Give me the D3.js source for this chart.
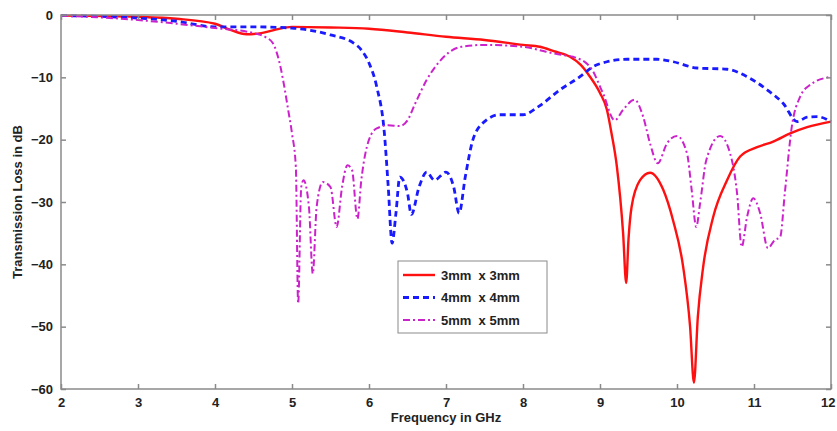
<!DOCTYPE html>
<html><head><meta charset="utf-8">
<script src="https://cdn.jsdelivr.net/npm/d3@7"></script>
<style>body{margin:0;background:#fff}svg{display:block}text{font-family:"Liberation Sans",Arial,sans-serif}</style>
</head><body><svg id="c" width="837" height="431"></svg>
<script>
const xTicks=[2,3,4,5,6,7,8,9,10,11,12];
const yTicks=[0,-10,-20,-30,-40,-50,-60];
const seriesNames=["3mm  x 3mm","4mm  x 4mm","5mm  x 5mm"];
const freq3=[2,3,3.5,4,4.2,4.41,4.6,4.8,5,5.5,6,6.5,7,7.5,8,8.22,8.4,8.61,8.75,8.87,9.0,9.09,9.15,9.22,9.3,9.34,9.37,9.41,9.52,9.65,9.82,9.95,10.08,10.17,10.22,10.27,10.34,10.47,10.65,10.82,11.04,11.25,11.47,11.69,12];
const loss3=[-0.1,-0.3,-0.6,-1.4,-2.4,-3.1,-2.9,-2.3,-1.9,-2.0,-2.2,-2.8,-3.5,-4.0,-4.8,-5.1,-5.8,-6.7,-8.0,-9.9,-12.5,-15.2,-19,-24.4,-35,-43,-36,-30.8,-26.5,-25.3,-28,-33,-40.4,-50,-59,-48.5,-40.4,-32.4,-26.5,-22.7,-21.2,-20.3,-19,-18,-17.1];
const freq4=[2,3,3.5,4,4.5,5,5.5,5.8,5.9,6.0,6.1,6.2,6.25,6.3,6.35,6.4,6.5,6.55,6.65,6.75,6.85,7.0,7.1,7.17,7.25,7.35,7.5,7.7,8.0,8.2,8.48,8.74,8.91,9.09,9.35,9.74,9.95,10.26,10.65,10.91,11.17,11.38,11.56,11.69,11.82,12];
const loss4=[-0.1,-0.5,-1.0,-1.9,-1.9,-2.1,-3.2,-4.5,-5.6,-7.7,-11.5,-19,-27.6,-36.6,-31.8,-26,-28.6,-32,-27.6,-25.2,-26.5,-25.2,-27.6,-31.8,-26,-20,-17.1,-16,-16,-14.7,-12,-9.9,-8.3,-7.5,-7.1,-7.1,-7.5,-8.5,-8.7,-9.9,-12,-14.2,-17.1,-16.4,-16.3,-17.1];
const freq5=[2,3,3.5,4,4.5,4.65,4.75,4.85,4.9,4.95,5.0,5.05,5.08,5.12,5.15,5.22,5.27,5.32,5.4,5.5,5.58,5.65,5.72,5.78,5.85,5.9,6.0,6.1,6.25,6.4,6.5,6.6,6.75,6.9,7.05,7.2,7.5,8.0,8.3,8.5,8.65,8.87,9.04,9.19,9.3,9.45,9.56,9.65,9.75,9.87,10.0,10.13,10.19,10.25,10.3,10.38,10.56,10.69,10.78,10.84,10.91,10.99,11.08,11.18,11.27,11.34,11.4,11.49,11.6,11.73,12];
const loss5=[-0.1,-0.8,-1.4,-2.1,-2.9,-3.5,-4.5,-8.3,-11.5,-15.2,-19,-24.4,-46.3,-27.6,-26.5,-30.8,-41.5,-30.8,-26.8,-27.6,-34,-27.6,-24.1,-24.9,-32.7,-26.5,-20,-18.2,-17.7,-17.8,-16.9,-14.2,-10.4,-7.7,-5.9,-5.1,-4.8,-5.1,-5.9,-6.4,-6.7,-8.3,-12.6,-16.9,-15.2,-13.6,-16.3,-20.6,-23.8,-20.6,-19.4,-22.2,-28,-34,-30.2,-23.3,-19.4,-22.2,-28.6,-37.2,-32.4,-29.4,-31.8,-37.4,-36.1,-35.6,-28.6,-18,-13.1,-11.2,-9.9];

const svg=d3.select("#c");
const L=61,R=831,T=15,B=389;
const x=d3.scaleLinear().domain([2,12]).range([L,R]);
const y=d3.scaleLinear().domain([-60,0]).range([B,T]);
const axisCol="#8a8a8a";
const styles=[
 {color:"#ff1010",w:2.4,dash:null},
 {color:"#1a1aff",w:2.8,dash:"6,4"},
 {color:"#cc22cc",w:2,dash:"7,3,2,3"}
];
const data=[[freq3,loss3],[freq4,loss4],[freq5,loss5]];
const line=d3.line().x(d=>x(d[0])).y(d=>y(d[1])).curve(d3.curveMonotoneX);
const g=svg.append("g");
[0,1,2].forEach(i=>{
  const pts=data[i][0].map((f,k)=>[f,data[i][1][k]]);
  const p=g.append("path").datum(pts).attr("d",line).attr("fill","none")
   .attr("stroke",styles[i].color).attr("stroke-width",styles[i].w).attr("stroke-linejoin","round");
  if(styles[i].dash) p.attr("stroke-dasharray",styles[i].dash);
});
const ax=svg.append("g");
ax.append("rect").attr("x",L).attr("y",T).attr("width",R-L).attr("height",B-T)
  .attr("fill","none").attr("stroke",axisCol).attr("stroke-width",1.5);
const axB=d3.axisBottom(x).tickValues(xTicks).tickSize(-5).tickPadding(9).tickFormat(d3.format("d"));
const axL=d3.axisLeft(y).tickValues(yTicks).tickSize(-5).tickPadding(8).tickFormat(d3.format("d"));
const axT=d3.axisTop(x).tickValues(xTicks).tickSize(-5).tickFormat("");
const axR=d3.axisRight(y).tickValues(yTicks).tickSize(-5).tickFormat("");
function style(gg){gg.select(".domain").remove();gg.selectAll("line").attr("stroke",axisCol).attr("stroke-width",1.5);
 gg.selectAll("text").attr("fill","#222").style("font-size","13px").style("font-weight","bold");}
const gB=ax.append("g").attr("transform",`translate(0,${B})`).call(axB).call(style);
gB.selectAll("text").filter(d=>d===12).attr("text-anchor","end").attr("dx","4");
ax.append("g").attr("transform",`translate(${L},0)`).call(axL).call(style);
ax.append("g").attr("transform",`translate(0,${T})`).call(axT).call(style);
ax.append("g").attr("transform",`translate(${R},0)`).call(axR).call(style);
svg.append("text").attr("x",(L+R)/2).attr("y",422).attr("text-anchor","middle")
 .style("font-size","13px").style("font-weight","bold").attr("fill","#222").text("Frequency in GHz");
svg.append("text").attr("transform",`translate(22,${(T+B)/2}) rotate(-90)`).attr("text-anchor","middle")
 .style("font-size","13px").style("font-weight","bold").attr("fill","#222").text("Transmission Loss in dB");
const lg=svg.append("g");
lg.append("rect").attr("x",398).attr("y",261).attr("width",149).attr("height",72)
 .attr("fill","#fff").attr("stroke",axisCol).attr("stroke-width",1);
seriesNames.forEach((n,i)=>{
  const yy=275+i*22.5;
  const l=lg.append("line").attr("x1",403).attr("x2",435).attr("y1",yy).attr("y2",yy)
   .attr("stroke",styles[i].color).attr("stroke-width",styles[i].w);
  if(styles[i].dash) l.attr("stroke-dasharray",styles[i].dash);
  lg.append("text").attr("x",441).attr("y",yy+4.5).style("font-size","13px").style("font-weight","bold")
   .style("white-space","pre").attr("fill","#222").text(n);
});
</script></body></html>
